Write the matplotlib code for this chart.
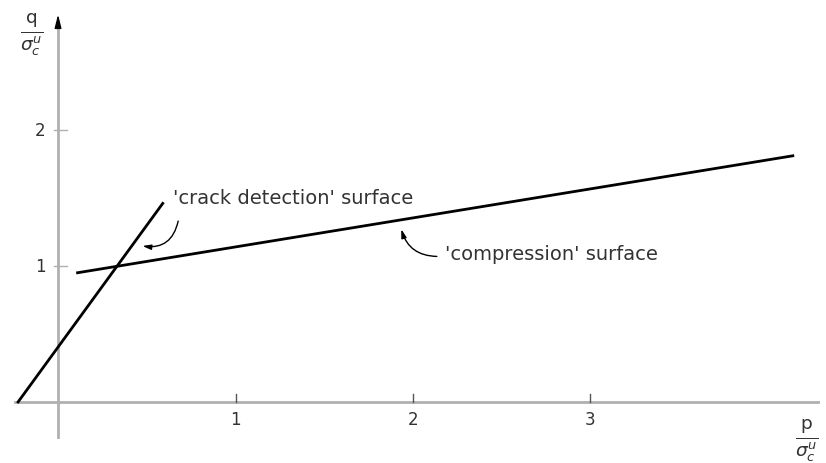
import numpy as np
import matplotlib.pyplot as plt

# p-q plane, values in units of sigma_c^u
crack_p = [-0.225, 0.59]
crack_q = [0.0, 1.46]
comp_p = [0.11, 4.14]
comp_q = [0.95, 1.81]
xticks = [1, 2, 3]
yticks = [1, 2]

fig = plt.figure(figsize=(8.26, 4.64), dpi=100)
ax = fig.add_axes([0, 0, 1, 1])
ax.set_xlim(-0.327, 4.327)
ax.set_ylim(-0.449, 2.963)
ax.axis('off')

gray = '#b0b0b0'
txt = '#333333'

# axes with arrows
ax.plot([-0.24, 4.28], [0, 0], color=gray, lw=2, zorder=1)
ax.plot([0, 0], [-0.26, 2.8], color=gray, lw=2, zorder=1)
ax.annotate('', xy=(4.33, 0), xytext=(4.22, 0),
            arrowprops=dict(arrowstyle='-|>,head_length=0.6,head_width=0.2', color='black', lw=1))
ax.annotate('', xy=(0, 2.87), xytext=(0, 2.75),
            arrowprops=dict(arrowstyle='-|>,head_length=0.8,head_width=0.2', color='black', lw=1))

# ticks
for t in xticks:
    ax.plot([t, t], [0, 0.06], color='#555555', lw=1)
    ax.text(t, -0.06, str(t), ha='center', va='top', fontsize=12, color=txt)
for t in yticks:
    ax.plot([-0.02, 0.05], [t, t], color=gray, lw=1)
    ax.text(-0.07, t, str(t), ha='right', va='center', fontsize=12, color=txt)

# axis labels
ax.text(-0.15, 2.71, r'$\frac{\mathrm{q}}{\sigma_c^u}$', ha='center', va='center', fontsize=19, color=txt)
ax.text(4.22, -0.28, r'$\frac{\mathrm{p}}{\sigma_c^u}$', ha='center', va='center', fontsize=19, color=txt)

# surfaces
ax.plot(crack_p, crack_q, color='black', lw=2)
ax.plot(comp_p, comp_q, color='black', lw=2)

# labels
ax.text(0.65, 1.5, "'crack detection' surface", fontsize=14, color=txt, va='center')
ax.annotate('', xy=(0.46, 1.15), xytext=(0.68, 1.35),
            arrowprops=dict(arrowstyle='-|>,head_length=0.5,head_width=0.15', color='black',
                            lw=1, connectionstyle='arc3,rad=-0.5'))
ax.text(2.18, 1.09, "'compression' surface", fontsize=14, color=txt, va='center')
ax.annotate('', xy=(1.93, 1.29), xytext=(2.15, 1.07),
            arrowprops=dict(arrowstyle='-|>,head_length=0.5,head_width=0.15', color='black',
                            lw=1, connectionstyle='arc3,rad=-0.4'))

fig.savefig('out.png', dpi=100)
